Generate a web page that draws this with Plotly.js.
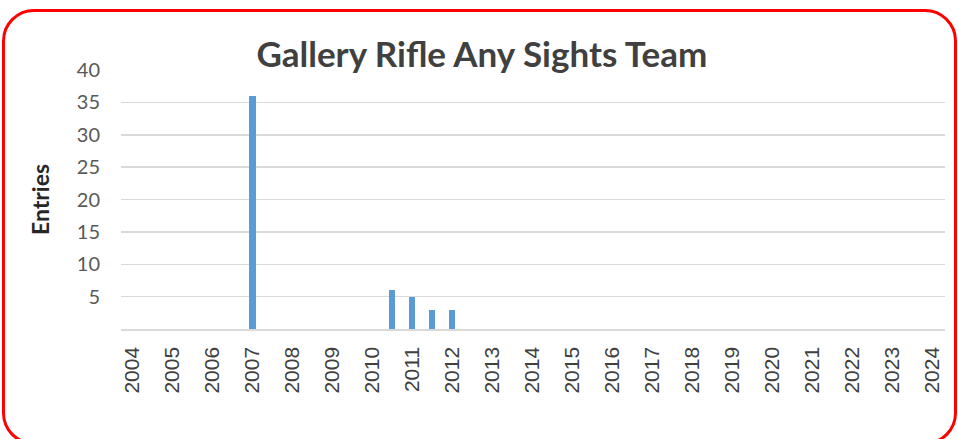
<!DOCTYPE html>
<html>
<head>
<meta charset="utf-8">
<script src="https://cdn.plot.ly/plotly-3.0.1.min.js"></script>
<style>
html,body{margin:0;padding:0;background:#fff;width:958px;height:439px;overflow:hidden;}
#frame{position:absolute;left:2px;top:9px;width:955px;height:436px;border:3px solid #ff0000;border-radius:32px;box-sizing:border-box;}
#chart{position:absolute;left:0;top:0;width:958px;height:439px;}
</style>
</head>
<body>
<div id="frame"></div>
<div id="chart"></div>
<script>
const years = [2004,2005,2006,2007,2008,2009,2010,2011,2012,2013,2014,2015,2016,2017,2018,2019,2020,2021,2022,2023,2024];
const barPositions = [2007, 2010.5, 2011, 2011.5, 2012];
const entries = [36, 6, 5, 3, 3];
const yTicks = [5,10,15,20,25,30,35,40];

const trace = {
  type: 'bar',
  x: barPositions,
  y: entries,
  width: 0.17,
  marker: {color: '#5b9bd5'},
  hoverinfo: 'x+y'
};

const layout = {
  width: 958, height: 439,
  paper_bgcolor: 'rgba(0,0,0,0)',
  plot_bgcolor: 'rgba(0,0,0,0)',
  margin: {l: 121, r: 13, t: 70, b: 110},
  showlegend: false,
  title: {
    text: '<b>Gallery Rifle Any Sights Team</b>',
    font: {family: 'Lato, "Open Sans", sans-serif', size: 35, color: '#404040'},
    x: 0.503, xanchor: 'center', y: 0.875, yanchor: 'middle'
  },
  xaxis: {
    type: 'linear',
    range: [2003.72, 2024.33],
    tickmode: 'array',
    tickvals: years,
    ticktext: years.map(String),
    tickangle: -90,
    tickfont: {family: '"Liberation Sans", Arial, sans-serif', size: 21, color: '#404040'},
    ticklabelstandoff: 8,
    showgrid: false,
    zeroline: false,
    showline: true,
    linecolor: '#d9d9d9',
    linewidth: 1.5,
    ticks: '',
    ticklen: 0
  },
  yaxis: {
    range: [0, 40],
    tickmode: 'array',
    tickvals: yTicks,
    ticktext: yTicks.map(String),
    tickfont: {family: 'Lato, "Open Sans", sans-serif', size: 20, color: '#595959'},
    showgrid: true,
    gridcolor: '#d9d9d9',
    gridwidth: 1.5,
    zeroline: false,
    showline: false,
    ticks: '',
    ticklabelstandoff: 20,
    title: {
      text: '<b>Entries</b>',
      font: {family: 'Lato, "Open Sans", sans-serif', size: 23, color: '#262626'},
      standoff: 20
    }
  },
  bargap: 0
};

Plotly.newPlot('chart', [trace], layout, {displayModeBar: false, staticPlot: true});
</script>
</body>
</html>
